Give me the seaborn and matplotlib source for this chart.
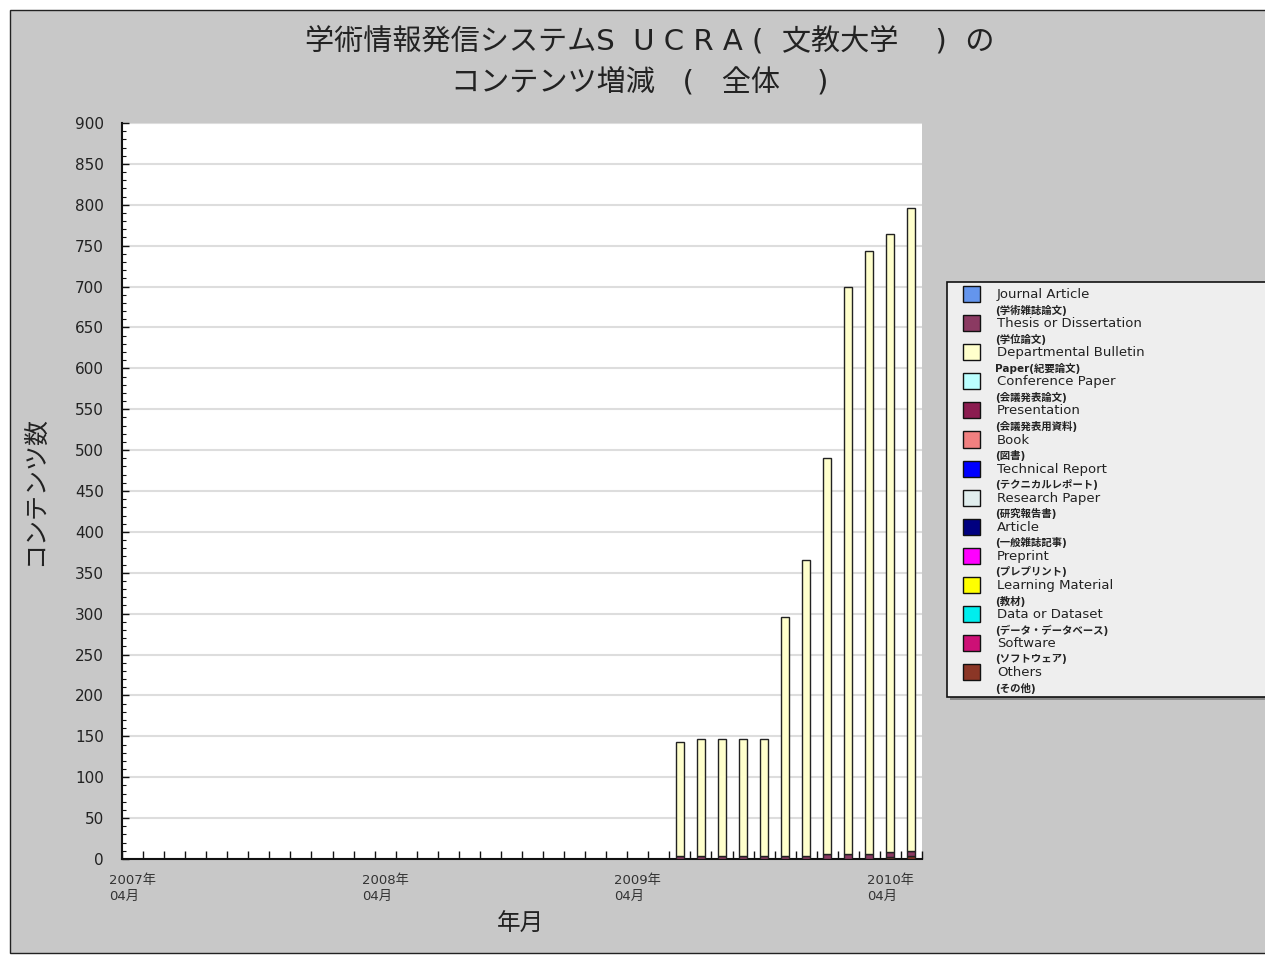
import numpy as np
import pandas as pd
import matplotlib
matplotlib.use("Agg")
import matplotlib.pyplot as plt
from matplotlib.patches import Rectangle
import seaborn as sns

sns.set_theme(style="white")
plt.rcParams['font.family'] = ['DejaVu Sans', 'Noto Sans CJK JP']

# ---------------- data ----------------
months = [str(p) for p in pd.period_range("2007-04", "2010-05", freq="M")]
bar_months = ["2009-06", "2009-07", "2009-08", "2009-09", "2009-10", "2009-11",
              "2009-12", "2010-01", "2010-02", "2010-03", "2010-04", "2010-05"]
departmental = [139, 143, 143, 143, 143, 292, 362, 484, 693, 737, 755, 786]
thesis = [4, 4, 4, 4, 4, 4, 4, 6, 6, 6, 6, 6]
others = [0, 0, 0, 0, 0, 0, 0, 0, 0, 0, 3, 4]

tick_months = ["2007-04", "2008-04", "2009-04", "2010-04"]
tick_labels = ["2007年\n04月", "2008年\n04月", "2009年\n04月", "2010年\n04月"]

legend_en = ["Journal Article", "Thesis or Dissertation", "Departmental Bulletin",
             "Conference Paper", "Presentation", "Book", "Technical Report",
             "Research Paper", "Article", "Preprint", "Learning Material",
             "Data or Dataset", "Software", "Others"]
legend_ja = ["(学術雑誌論文)", "(学位論文)", "Paper(紀要論文)", "(会議発表論文)",
             "(会議発表用資料)", "(図書)", "(テクニカルレポート)", "(研究報告書)",
             "(一般雑誌記事)", "(プレプリント)", "(教材)", "(データ・データベース)",
             "(ソフトウェア)", "(その他)"]
legend_colors = ["#6495ED", "#8B3A62", "#FFFFCC", "#BBFFFF", "#8B1C50", "#F08080",
                 "#0000FF", "#E0EEEE", "#000080", "#FF00FF", "#FFFF00", "#00EEEE",
                 "#CD1076", "#8B3626"]

title1 = "学術情報発信システムS  U C R A (  文教大学    )  の"
title2 = "コンテンツ増減   (   全体    )"

# ---------------- long table ----------------
rows = []
for m, d, t, o in zip(bar_months, departmental, thesis, others):
    idx = months.index(m)
    rows.append((idx, "Departmental Bulletin", d))
    rows.append((idx, "Thesis or Dissertation", t))
    if o > 0:
        rows.append((idx, "Others", o))
df = pd.DataFrame(rows, columns=["month", "type", "count"])
palette = dict(zip(legend_en, legend_colors))

W, H = 1265, 955
fig = plt.figure(figsize=(W / 100, H / 100), dpi=100)
fig.patch.set_facecolor("white")

bg = Rectangle((10 / W, 2 / H), 1.2, (953 - 10) / H, transform=fig.transFigure,
               facecolor="#C8C8C8", edgecolor="#222222", lw=1.0, zorder=-10)
fig.patches.append(bg)

ax = fig.add_axes([122 / W, (H - 859) / H, 800 / W, 736 / H])
ax.set_facecolor("white")

sns.histplot(data=df, x="month", weights="count", hue="type",
             hue_order=["Departmental Bulletin", "Thesis or Dissertation", "Others"],
             palette=palette, multiple="stack", discrete=True, shrink=0.38,
             edgecolor="#222222", linewidth=1.0, alpha=1, legend=False, ax=ax,
             zorder=3)

ax.set_xlim(-0.5, len(months) - 0.5)
ax.set_ylim(0, 900)
ax.set_yticks(np.arange(0, 901, 50))
ax.set_yticks(np.arange(0, 901, 10), minor=True)
ax.set_xticks([months.index(m) for m in tick_months])
ax.set_xticklabels(tick_labels)
ax.set_xticks(np.arange(-0.5, len(months), 1.0), minor=True)

ax.yaxis.grid(True, which="major", color="#DDDDDD", lw=1.5, zorder=0)
ax.xaxis.grid(False)
ax.set_axisbelow(True)

for s in ["top", "right"]:
    ax.spines[s].set_visible(False)
for s in ["left", "bottom"]:
    ax.spines[s].set_color("#111111")
    ax.spines[s].set_linewidth(1.5)

ax.tick_params(axis="y", which="major", direction="in", length=5, width=1,
               color="#111111", labelsize=11, labelcolor="#222222", pad=13, left=True)
ax.tick_params(axis="y", which="minor", direction="in", length=3, width=0.8,
               color="#111111", left=True)
ax.tick_params(axis="x", which="major", length=0, labelsize=9.5, labelcolor="#333333",
               pad=11, bottom=True)
ax.tick_params(axis="x", which="minor", direction="in", length=6, width=1,
               color="#111111", bottom=True)
for lab in ax.get_xticklabels():
    lab.set_linespacing(1.3)
    lab.set_multialignment("left")

ax.set_ylabel("コンテンツ数", fontsize=18, color="#222222")
ax.yaxis.set_label_coords(-0.094, 0.5)
ax.set_xlabel("年月", fontsize=17, color="#222222")
ax.xaxis.set_label_coords(0.4975, -0.072)

fig.text(650 / W, 1 - 42 / H, title1, ha="center", va="center", fontsize=21, color="#222222")
fig.text(640 / W, 1 - 82 / H, title2, ha="center", va="center", fontsize=21, color="#222222")

# ---------------- legend box ----------------
shadow = Rectangle((950 / W, 1 - 700 / H), 0.3, (697 - 282) / H, transform=fig.transFigure,
                   facecolor="#888888", edgecolor="none", zorder=1)
box = Rectangle((947 / W, 1 - 697 / H), 0.3, (697 - 282) / H, transform=fig.transFigure,
                facecolor="#EEEEEE", edgecolor="#111111", lw=1.2, zorder=2)
fig.patches.extend([shadow, box])
pitch = 29.1
for i, (en, ja, c) in enumerate(zip(legend_en, legend_ja, legend_colors)):
    top = 286 + pitch * i
    fig.patches.append(Rectangle((963 / W, 1 - (top + 16) / H), 17 / W, 16 / H,
                                 transform=fig.transFigure, facecolor=c,
                                 edgecolor="#111111", lw=1.0, zorder=3))
    fig.text(997 / W, 1 - (top + 8.5) / H, en, ha="left", va="center",
             fontsize=9.5, color="#222222", zorder=4)
    fig.text(995 / W, 1 - (top + 24) / H, ja, ha="left", va="center",
             fontsize=7.5, fontweight="bold", color="#222222", zorder=4)

fig.savefig("out.png", dpi=100, facecolor=fig.get_facecolor())
